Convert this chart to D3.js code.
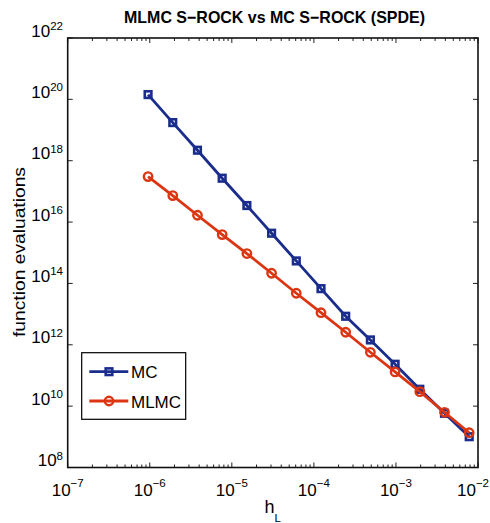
<!DOCTYPE html>
<html>
<head>
<meta charset="utf-8">
<script src="https://cdn.jsdelivr.net/npm/d3@7"></script>
<style>
  html, body { margin: 0; padding: 0; background: #fff; }
  svg { display: block; }
  text { font-family: "Liberation Sans", Arial, Helvetica, sans-serif; fill: #000; }
</style>
</head>
<body>
<svg id="chart" width="490" height="523"></svg>
<script>
// ---- data ----
const hL = [9.5367e-7, 1.9073e-6, 3.8147e-6, 7.6294e-6, 1.5259e-5, 3.0518e-5, 6.1035e-5,
            1.2207e-4, 2.4414e-4, 4.8828e-4, 9.7656e-4, 1.9531e-3, 3.9063e-3, 7.8125e-3];
const mcEvals = [1.43e20, 1.75e19, 2.20e18, 2.69e17, 3.46e16, 4.33e15, 5.41e14,
                 6.76e13, 8.51e12, 1.44e12, 2.32e11, 3.55e10, 5.85e9, 1.01e9];
const mlmcEvals = [3.03e17, 7.28e16, 1.67e16, 3.90e15, 9.42e14, 2.15e14, 4.79e13,
                   1.11e13, 2.56e12, 5.70e11, 1.30e11, 2.96e10, 6.31e9, 1.36e9];
const seriesNames = ["MC", "MLMC"];
const xTickExps = [-7, -6, -5, -4, -3, -2];
const yTickExps = [8, 10, 12, 14, 16, 18, 20, 22];
const titleText = "MLMC S\u2212ROCK vs MC S\u2212ROCK (SPDE)";
const yLabelText = "function evaluations";

// ---- layout ----
const L = 67.7, R = 478, T = 38, B = 467.5;
const blue = "#1b2d8c", red = "#dc3512";

const svg = d3.select("#chart");
const x = d3.scaleLog().domain([1e-7, 1e-2]).range([L, R]);
const y = d3.scaleLog().domain([1e8, 1e22]).range([B, T]);

// minor x ticks
const minor = [];
xTickExps.slice(0, -1).forEach(e => { for (let k = 2; k <= 9; k++) minor.push(k * Math.pow(10, e)); });

const axesG = svg.append("g");
const tickColor = "#222";
xTickExps.forEach(e => {
  const px = x(Math.pow(10, e));
  axesG.append("line").attr("x1", px).attr("x2", px).attr("y1", B).attr("y2", B - 5).attr("stroke", tickColor).attr("stroke-width", 1);
  axesG.append("line").attr("x1", px).attr("x2", px).attr("y1", T).attr("y2", T + 5).attr("stroke", tickColor).attr("stroke-width", 1);
});
minor.forEach(v => {
  const px = x(v);
  axesG.append("line").attr("x1", px).attr("x2", px).attr("y1", B).attr("y2", B - 3).attr("stroke", tickColor).attr("stroke-width", 1);
  axesG.append("line").attr("x1", px).attr("x2", px).attr("y1", T).attr("y2", T + 3).attr("stroke", tickColor).attr("stroke-width", 1);
});
yTickExps.forEach(e => {
  const py = y(Math.pow(10, e));
  axesG.append("line").attr("x1", L).attr("x2", L + 5).attr("y1", py).attr("y2", py).attr("stroke", tickColor).attr("stroke-width", 1);
  axesG.append("line").attr("x1", R).attr("x2", R - 5).attr("y1", py).attr("y2", py).attr("stroke", tickColor).attr("stroke-width", 1);
});
axesG.append("rect").attr("x", L).attr("y", T).attr("width", R - L).attr("height", B - T)
  .attr("fill", "none").attr("stroke", "#111").attr("stroke-width", 1.6);

// x tick labels
xTickExps.forEach((e, i) => {
  const last = i === xTickExps.length - 1;
  const t = svg.append("text").attr("x", last ? 489 : x(Math.pow(10, e))).attr("y", 495.5)
    .attr("text-anchor", last ? "end" : "middle").style("font-size", "17px");
  t.append("tspan").text("10");
  t.append("tspan").attr("dy", -9).style("font-size", "11.5px").text(String(e).replace("-", "\u2212"));
});
// y tick labels
yTickExps.forEach(e => {
  const t = svg.append("text").attr("x", 63).attr("y", y(Math.pow(10, e)) - 1.5)
    .attr("text-anchor", "end").style("font-size", "17px");
  t.append("tspan").text("10");
  t.append("tspan").attr("dy", -6.5).style("font-size", "11.5px").text(String(e));
});

// title
svg.append("text").attr("x", 274.5).attr("y", 22.7).attr("text-anchor", "middle")
  .style("font-size", "16.5px").style("font-weight", "bold")
  .attr("textLength", 301).attr("lengthAdjust", "spacingAndGlyphs").text(titleText);

// y label
svg.append("text").attr("transform", "translate(25,252) rotate(-90)").attr("text-anchor", "middle")
  .style("font-size", "17px").attr("textLength", 170).attr("lengthAdjust", "spacingAndGlyphs")
  .text(yLabelText);

// x label h_L
const xl = svg.append("text").attr("x", 264.5).attr("y", 512.7).style("font-size", "18px");
xl.append("tspan").text("h");
xl.append("tspan").attr("dy", 9).style("font-size", "11.5px").text("L");

// ---- series ----
const line = d3.line().x(d => x(d[0])).y(d => y(d[1]));
const mcData = hL.map((h, i) => [h, mcEvals[i]]);
const mlmcData = hL.map((h, i) => [h, mlmcEvals[i]]);

function drawSquare(g, cx, cy, color) {
  g.append("rect").attr("x", cx - 3.3).attr("y", cy - 3.3).attr("width", 6.6).attr("height", 6.6)
    .attr("fill", "none").attr("stroke", color).attr("stroke-width", 2.6);
}
function drawCircle(g, cx, cy, color) {
  g.append("circle").attr("cx", cx).attr("cy", cy).attr("r", 4.2)
    .attr("fill", "none").attr("stroke", color).attr("stroke-width", 2.4);
}

const mcG = svg.append("g");
mcG.append("path").datum(mcData).attr("d", line).attr("fill", "none").attr("stroke", blue).attr("stroke-width", 2.8);
mcData.forEach(d => drawSquare(mcG, x(d[0]), y(d[1]), blue));

const mlG = svg.append("g");
mlG.append("path").datum(mlmcData).attr("d", line).attr("fill", "none").attr("stroke", red).attr("stroke-width", 2.8);
mlmcData.forEach(d => drawCircle(mlG, x(d[0]), y(d[1]), red));

// ---- legend ----
const lg = svg.append("g");
lg.append("rect").attr("x", 81.7).attr("y", 352.7).attr("width", 104).attr("height", 66.6)
  .attr("fill", "#fff").attr("stroke", "#000").attr("stroke-width", 1.2);
const legendRows = [{ name: seriesNames[0], color: blue, y: 371.7, mk: drawSquare },
                    { name: seriesNames[1], color: red, y: 401, mk: drawCircle }];
legendRows.forEach(r => {
  lg.append("line").attr("x1", 89.3).attr("x2", 128.3).attr("y1", r.y).attr("y2", r.y)
    .attr("stroke", r.color).attr("stroke-width", 2.8);
  r.mk(lg, 109, r.y, r.color);
  lg.append("text").attr("x", 131).attr("y", r.y + 6.5).style("font-size", "17px").text(r.name);
});
</script>
</body>
</html>
